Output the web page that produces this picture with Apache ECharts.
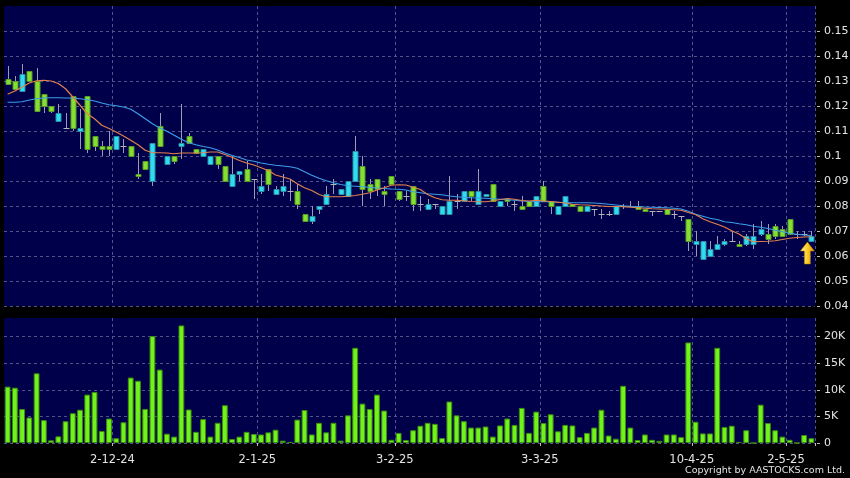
<!DOCTYPE html>
<html><head><meta charset="utf-8">
<script src="https://cdn.jsdelivr.net/npm/echarts@6/dist/echarts.min.js"></script>
<style>html,body{margin:0;padding:0;background:#000;}#c{width:850px;height:478px;}</style>
</head><body><div id="c"></div>
<script>
// ---- data ----
const opens  = [0.131,0.130,0.126,0.134,0.130,0.125,0.120,0.114,0.111,0.124,0.110,0.124,0.108,0.104,0.104,0.103,0.104,0.104,0.093,0.098,
                0.090,0.112,0.097,0.100,0.104,0.108,0.103,0.100,0.097,0.100,0.096,0.088,0.093,0.095,0.091,0.086,0.095,0.085,0.086,0.086,
                0.086,0.077,0.074,0.079,0.081,0.089,0.085,0.084,0.090,0.096,0.089,0.091,0.086,0.092,0.086,0.084,0.088,0.081,0.079,0.081,
                0.077,0.077,0.082,0.082,0.086,0.081,0.084,0.089,0.080,0.083,0.081,0.080,0.082,0.080,0.088,0.082,0.077,0.080,0.081,0.080,
                0.078,0.079,0.077,0.077,0.077,0.080,0.080,0.080,0.079,0.078,0.078,0.079,0.077,0.076,0.075,0.065,0.059,0.060,0.063,0.065,
                0.066,0.065,0.065,0.065,0.069,0.069,0.072,0.071,0.075,0.069,0.069,0.066];
const closes = [0.129,0.127,0.133,0.130,0.118,0.120,0.118,0.117,0.111,0.111,0.111,0.103,0.104,0.103,0.103,0.108,0.104,0.100,0.092,0.095,
                0.105,0.104,0.100,0.098,0.105,0.105,0.101,0.103,0.100,0.097,0.090,0.093,0.094,0.090,0.091,0.088,0.089,0.087,0.088,0.086,
                0.081,0.074,0.076,0.080,0.085,0.089,0.087,0.090,0.102,0.087,0.086,0.087,0.085,0.089,0.083,0.084,0.081,0.081,0.081,0.081,
                0.080,0.082,0.082,0.086,0.084,0.086,0.085,0.082,0.082,0.082,0.081,0.079,0.080,0.084,0.082,0.080,0.080,0.084,0.080,0.078,
                0.080,0.079,0.077,0.077,0.080,0.080,0.080,0.079,0.078,0.078,0.078,0.077,0.077,0.076,0.066,0.066,0.066,0.063,0.065,0.066,
                0.066,0.064,0.068,0.068,0.071,0.067,0.068,0.068,0.069,0.069,0.069,0.068];
const lows   = [0.1285,0.127,0.126,0.130,0.118,0.117,0.117,0.114,0.111,0.110,0.103,0.101,0.102,0.100,0.100,0.103,0.101,0.100,0.091,0.095,
                0.088,0.104,0.097,0.097,0.099,0.105,0.101,0.100,0.097,0.095,0.090,0.088,0.090,0.090,0.083,0.085,0.086,0.085,0.084,0.082,
                0.079,0.074,0.073,0.077,0.081,0.085,0.085,0.084,0.090,0.080,0.083,0.084,0.080,0.089,0.082,0.082,0.078,0.078,0.079,0.079,
                0.077,0.077,0.079,0.082,0.082,0.081,0.084,0.082,0.080,0.080,0.078,0.079,0.080,0.080,0.082,0.077,0.077,0.080,0.080,0.078,
                0.078,0.076,0.075,0.076,0.077,0.079,0.080,0.079,0.078,0.076,0.078,0.077,0.075,0.074,0.062,0.060,0.059,0.060,0.063,0.064,
                0.066,0.064,0.064,0.063,0.068,0.065,0.067,0.068,0.069,0.067,0.068,0.066];
const highs  = [0.136,0.132,0.137,0.134,0.135,0.125,0.120,0.121,0.117,0.124,0.119,0.124,0.108,0.106,0.110,0.108,0.107,0.104,0.101,0.098,
                0.105,0.117,0.100,0.100,0.121,0.109,0.103,0.103,0.100,0.100,0.096,0.100,0.094,0.098,0.091,0.093,0.095,0.088,0.093,0.091,
                0.089,0.077,0.080,0.080,0.088,0.091,0.087,0.090,0.108,0.100,0.091,0.091,0.088,0.092,0.086,0.086,0.088,0.084,0.083,0.081,
                0.080,0.092,0.085,0.086,0.086,0.095,0.085,0.089,0.082,0.083,0.082,0.084,0.082,0.084,0.090,0.082,0.080,0.084,0.081,0.080,
                0.080,0.079,0.079,0.078,0.080,0.081,0.082,0.082,0.079,0.078,0.078,0.079,0.078,0.076,0.075,0.070,0.066,0.066,0.068,0.067,
                0.070,0.066,0.069,0.073,0.074,0.073,0.073,0.072,0.075,0.070,0.070,0.070];
const volumes = [10600,10400,6400,4800,13100,4300,500,1250,4100,5600,6250,9100,9600,2250,4600,900,3900,12300,11700,6400,
                 20100,13800,1750,1200,22100,6300,2100,4500,1200,3800,7100,750,1200,2100,1700,1600,2000,2500,440,200,
                 4400,6200,1600,3800,2000,3800,440,5200,17900,7400,6400,9100,6100,600,1900,560,2400,3250,3800,3600,
                 940,7800,5200,4100,2900,2900,3100,1200,3300,4600,3400,6600,1900,5900,3750,5400,2200,3400,3300,1100,
                 1900,2900,6250,1400,800,10750,2900,560,1600,600,400,1600,1600,1100,18900,4000,1800,1800,17900,3000,
                 3250,200,2400,0,7200,3750,2400,1200,600,0,1500,900];
const maShort = [0.1247,0.1260,0.1276,0.1292,0.1301,0.1303,0.1300,0.1290,0.1269,0.1236,0.1203,0.1169,0.1149,0.1123,0.1110,0.1096,0.1080,0.1063,0.1045,0.1023,
                 0.1013,0.1013,0.1012,0.1009,0.1012,0.1012,0.1012,0.1013,0.1016,0.1016,0.1006,0.0995,0.0982,0.0972,0.0964,0.0953,0.0942,0.0924,0.0916,0.0908,
                 0.0889,0.0873,0.0862,0.0846,0.0837,0.0837,0.0837,0.0839,0.0842,0.0847,0.0853,0.0864,0.0873,0.0883,0.0885,0.0884,0.0875,0.0866,0.0846,0.0833,
                 0.0825,0.0823,0.0823,0.0821,0.0818,0.0817,0.0817,0.0820,0.0826,0.0830,0.0827,0.0822,0.0820,0.0823,0.0820,0.0818,0.0815,0.0812,0.0807,0.0805,
                 0.0804,0.0802,0.0800,0.0798,0.0798,0.0797,0.0795,0.0793,0.0791,0.0789,0.0788,0.0787,0.0785,0.0783,0.0774,0.0766,0.0749,0.0737,0.0727,0.0716,
                 0.0701,0.0688,0.0669,0.0657,0.0658,0.0659,0.0661,0.0666,0.0671,0.0674,0.0676,0.0677];
const maLong  = [0.1215,0.1215,0.1217,0.1224,0.1229,0.1232,0.1233,0.1233,0.1232,0.1232,0.1229,0.1225,0.1220,0.1212,0.1205,0.1201,0.1196,0.1187,0.1169,0.1149,
                 0.1129,0.1112,0.1099,0.1083,0.1067,0.1053,0.1045,0.1038,0.1033,0.1024,0.1012,0.1002,0.0994,0.0984,0.0979,0.0972,0.0967,0.0963,0.0960,0.0957,
                 0.0951,0.0937,0.0923,0.0911,0.0901,0.0893,0.0886,0.0881,0.0879,0.0877,0.0875,0.0872,0.0870,0.0868,0.0867,0.0864,0.0857,0.0853,0.0849,0.0847,
                 0.0845,0.0840,0.0837,0.0835,0.0833,0.0832,0.0831,0.0829,0.0827,0.0825,0.0823,0.0820,0.0818,0.0817,0.0817,0.0817,0.0815,0.0813,0.0813,0.0813,
                 0.0813,0.0812,0.0810,0.0807,0.0804,0.0801,0.0799,0.0798,0.0796,0.0795,0.0794,0.0793,0.0791,0.0788,0.0779,0.0767,0.0759,0.0751,0.0746,0.0737,
                 0.0734,0.0729,0.0725,0.0719,0.0715,0.0710,0.0703,0.0697,0.0691,0.0687,0.0684,0.0682];
const tickLabels = ['2-12-24','2-1-25','3-2-25','3-3-25','10-4-25','2-5-25'];
const tickBars   = [14,34,53,73,94,107];
const copyright  = 'Copyright by AASTOCKS.com Ltd.';

// ---- build ----
const n = opens.length;
const categories = opens.map((_, i) => String(i));
const labelOf = {};
tickBars.forEach((b, k) => labelOf[b] = tickLabels[k]);
const candleData = opens.map((o, i) => [i, o, closes[i], lows[i], highs[i]]);

const GREEN = '#84e030', GREEN_B = '#5a9a26';
const CYAN = '#30dcf2', CYAN_B = '#2a8ea2';
const WICK = '#9c9cae';
const GRID = '#54548a';
const TXT = '#e4e4e4';
const FONT = 'DejaVu Sans';

const chart = echarts.init(document.getElementById('c'), null, {renderer: 'canvas'});
const splitIv = (i) => labelOf[i - 1] !== undefined;

chart.setOption({
  backgroundColor: '#000',
  animation: false,
  grid: [
    {left: 4, right: 35, top: 6, height: 300, show: true, backgroundColor: '#00004a', borderWidth: 0, containLabel: false, outerBoundsMode: 'none'},
    {left: 4, right: 35, top: 318, height: 125, show: true, backgroundColor: '#00004a', borderWidth: 0, containLabel: false, outerBoundsMode: 'none'}
  ],
  xAxis: [
    {type: 'category', gridIndex: 0, data: categories, boundaryGap: true,
     axisLine: {show: false}, axisTick: {show: false}, axisLabel: {show: false},
     splitLine: {show: true, interval: splitIv, lineStyle: {color: GRID, type: [3, 3], width: 1}}},
    {type: 'category', gridIndex: 1, data: categories, boundaryGap: true, offset: 3,
     axisLine: {show: false},
     axisTick: {show: true, interval: splitIv, length: 3, lineStyle: {color: '#bbbbbb'}},
     axisLabel: {show: true, interval: (i) => labelOf[i] !== undefined, margin: 8,
       formatter: (v, i) => labelOf[i] ? '{a|' + labelOf[i] + '}' : '',
       rich: {a: {padding: [0, 0, 0, 7], color: TXT, fontFamily: FONT, fontSize: 11.5}},
       color: TXT, fontFamily: FONT, fontSize: 11.5},
     splitLine: {show: true, interval: splitIv, lineStyle: {color: GRID, type: [3, 3], width: 1}}}
  ],
  yAxis: [
    {type: 'value', gridIndex: 0, position: 'right', min: 0.04, max: 0.16, interval: 0.01, offset: 2,
     axisLine: {show: false},
     axisTick: {show: true, length: 3, lineStyle: {color: '#bbbbbb'}},
     axisLabel: {color: TXT, fontFamily: FONT, fontSize: 11, margin: 7, showMaxLabel: false},
     splitLine: {show: true, showMaxLine: false, lineStyle: {color: GRID, type: [3, 3], width: 1}}},
    {type: 'value', gridIndex: 1, position: 'right', min: 0, max: 23500, interval: 5000, offset: 2,
     axisLine: {show: false},
     axisTick: {show: true, length: 3, lineStyle: {color: '#bbbbbb'}},
     axisLabel: {color: TXT, fontFamily: FONT, fontSize: 11, margin: 7, showMaxLabel: false,
       formatter: (v) => v === 0 ? '0' : (v % 5000 === 0 ? (v / 1000) + 'K' : '')},
     splitLine: {show: true, showMaxLine: false, lineStyle: {color: GRID, type: [3, 3], width: 1}}}
  ],
  series: [
    {type: 'custom', xAxisIndex: 0, yAxisIndex: 0, data: candleData, encode: {x: 0, y: [1, 2, 3, 4]}, z: 3,
     renderItem: function (params, api) {
       const i = api.value(0), o = api.value(1), c = api.value(2), l = api.value(3), h = api.value(4);
       const pO = api.coord([i, o]), pC = api.coord([i, c]), pL = api.coord([i, l]), pH = api.coord([i, h]);
       const x = Math.round(pO[0]) + 0.5;
       const top = Math.round(Math.min(pO[1], pC[1])) + 0.5, bot = Math.round(Math.max(pO[1], pC[1])) + 0.5;
       const ch = [];
       if (h > l) ch.push({type: 'line', shape: {x1: x, y1: Math.round(pH[1]), x2: x, y2: Math.round(pL[1])}, style: {stroke: WICK, lineWidth: 1}});
       if (o === c) {
         ch.push({type: 'line', shape: {x1: x - 3, y1: top, x2: x + 3, y2: top}, style: {stroke: '#b4b4b4', lineWidth: 1}});
       } else {
         const up = c > o;
         ch.push({type: 'rect', shape: {x: x - 2.5, y: top, width: 5, height: Math.max(bot - top, 1)},
                  style: {fill: up ? CYAN : GREEN, stroke: up ? CYAN_B : GREEN_B, lineWidth: 1}});
       }
       return {type: 'group', children: ch};
     }},
    {type: 'line', xAxisIndex: 0, yAxisIndex: 0, data: maLong, showSymbol: false, z: 4,
     lineStyle: {color: '#3c9ee8', width: 1.2}},
    {type: 'line', xAxisIndex: 0, yAxisIndex: 0, data: maShort, showSymbol: false, z: 5,
     lineStyle: {color: '#e2804c', width: 1.2},
     markPoint: {
       symbol: 'path://M7,0 L14,9 L10,9 L10,22 L4,22 L4,9 L0,9 Z',
       symbolSize: [14, 22], symbolKeepAspect: false, z: 10,
       label: {show: false},
       itemStyle: {color: new echarts.graphic.LinearGradient(0, 0, 1, 0, [
         {offset: 0, color: '#fff4a0'}, {offset: 0.45, color: '#ffd030'}, {offset: 1, color: '#d89800'}]),
         borderColor: '#b07800', borderWidth: 0.5},
       data: [{coord: [n - 1, lows[n - 1]], symbolOffset: [-4, 12]}]
     }},
    {type: 'bar', xAxisIndex: 1, yAxisIndex: 1, data: volumes, barWidth: 5.8,
     itemStyle: {color: '#72f21c', borderColor: '#3c8c0e', borderWidth: 1}}
  ],
  graphic: [
    {type: 'text', right: 5, top: 466, style: {text: copyright, fill: TXT, font: '9.5px "DejaVu Sans"'}}
  ]
});
</script>
</body></html>
